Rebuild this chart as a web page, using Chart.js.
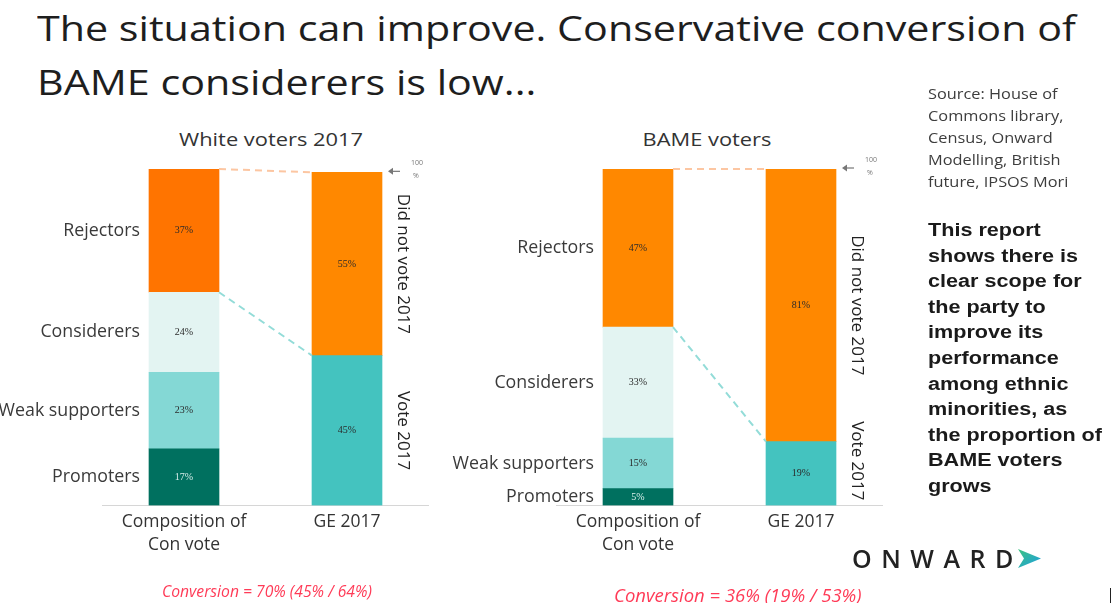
<!DOCTYPE html>
<html>
<head>
<meta charset="utf-8">
<title>BAME considerers</title>
<script src="https://cdn.jsdelivr.net/npm/chart.js@4.4.1/dist/chart.umd.min.js"></script>
<style>
  body { margin: 0; width: 1114px; height: 603px; position: relative; overflow: hidden; background: #fff; font-family: 'Open Sans', sans-serif; }
  canvas { position: absolute; left: 0; top: 0; }
  .abs { position: absolute; white-space: nowrap; }
  #title { left: 37px; top: 1px; font-size: 35px; line-height: 54px; color: #1e1e1e; transform: scaleX(1.178); transform-origin: left top; }
  .heading { font-size: 19px; color: #333; top: 126px; transform: translateX(-50%) scaleX(1.15); }
  #source { left: 928px; top: 82px; font-size: 15px; line-height: 22px; color: #3d3d3d; transform: scaleX(1.09); transform-origin: left top; }
  #note { left: 928px; top: 218px; font-family: 'Liberation Sans', Arial, sans-serif; font-weight: bold; font-size: 18px; line-height: 25.6px; color: #1a1a1a; transform: scaleX(1.2); transform-origin: left top; }
  .conv { font-style: italic; color: #ff3b57; }
  #logo { left: 852px; top: 541px; font-size: 25px; font-weight: 600; letter-spacing: 9.5px; color: #222; line-height: 34px; }
  #logo svg { position: absolute; left: 165px; top: 8px; }
</style>
</head>
<body>
<div id="title" class="abs">The situation can improve. Conservative conversion of<br>BAME considerers is low...</div>
<div class="abs heading" style="left:271px">White voters 2017</div>
<div class="abs heading" style="left:707px">BAME voters</div>
<canvas id="whiteChart" width="1114" height="603"></canvas>
<canvas id="bameChart" width="1114" height="603"></canvas>
<div id="source" class="abs">Source: House of<br>Commons library,<br>Census, Onward<br>Modelling, British<br>future, IPSOS Mori</div>
<div id="note" class="abs">This report<br>shows there is<br>clear scope for<br>the party to<br>improve its<br>performance<br>among ethnic<br>minorities, as<br>the proportion of<br>BAME voters<br>grows</div>
<div id="logo" class="abs">ONWARD<svg width="24" height="19" viewBox="0 0 24 19"><defs><linearGradient id="lg" x1="0" y1="0" x2="1" y2="1"><stop offset="0" stop-color="#3dc27f"/><stop offset="1" stop-color="#1d9fe3"/></linearGradient></defs><path d="M1 0 L24 9.5 L1 19 L7 9.5 Z" fill="url(#lg)"/></svg></div>
<div class="abs conv" style="left:162px;top:580px;font-size:15.7px">Conversion = 70% (45% / 64%)</div>
<div class="abs conv" style="left:614px;top:582px;font-size:18.5px">Conversion = 36% (19% / 53%)</div>
<div class="abs" style="left:1110px;top:588px;width:1px;height:15px;background:#222"></div>

<script>
// ---- data ----
const barLabels = [['Composition of', 'Con vote'], 'GE 2017'];
const segments = ['Promoters', 'Weak supporters', 'Considerers', 'Rejectors'];
const turnout = ['Vote 2017', 'Did not vote 2017'];

const whiteComposition = [17, 23, 24, 37];
const whiteTurnout = [45, 55];
const bameComposition = [5, 15, 33, 47];
const bameTurnout = [19, 81];

// ---- styles ----
const whiteSegColors = ['#00705f', '#84d8d5', '#e3f4f2', '#ff7400'];
const bameSegColors = ['#00705f', '#84d8d5', '#e3f4f2', '#ff8800'];
const turnoutColors = ['#44c3bf', '#ff8800'];
const segTextColors = ['#d7eeeb', '#2a2a2a', '#2a2a2a', '#2a2a2a'];

// Build stacked datasets: composition on the first bar, turnout on the second
function buildDatasets(comp, turn, segColors) {
    const sets = segments.map((name, i) => ({
        label: name,
        data: [comp[i], null],
        backgroundColor: segColors[i],
        textColor: segTextColors[i]
    }));
    turnout.forEach((name, i) => sets.push({
        label: name,
        data: [null, turn[i]],
        backgroundColor: turnoutColors[i],
        textColor: '#2a2a2a'
    }));
    return sets;
}

// Labels, connectors and the 100% marker
const annotate = {
    id: 'annotate',
    afterDatasetsDraw(chart) {
        const ctx = chart.ctx;
        const area = chart.chartArea;
        const yScale = chart.scales.y;
        const n = segments.length;
        const comp = [], turn = [];
        chart.data.datasets.forEach((ds, i) => {
            const meta = chart.getDatasetMeta(i);
            if (i < n) comp.push({ el: meta.data[0], ds, v: ds.data[0] });
            else turn.push({ el: meta.data[1], ds, v: ds.data[1] });
        });
        const b1 = comp[0].el, b2 = turn[0].el;
        const b1Left = b1.x - b1.width / 2, b1Right = b1.x + b1.width / 2;
        const b2Left = b2.x - b2.width / 2, b2Right = b2.x + b2.width / 2;

        ctx.save();
        // dashed connectors
        ctx.lineWidth = 2;
        ctx.setLineDash([7, 5]);
        ctx.strokeStyle = '#fcc6a2';
        ctx.beginPath();
        ctx.moveTo(b1Right, comp[n - 1].el.y);
        ctx.lineTo(b2Left, turn[turn.length - 1].el.y);
        ctx.stroke();
        ctx.strokeStyle = '#93dcd8';
        ctx.beginPath();
        ctx.moveTo(b1Right, comp[n - 2].el.y);
        ctx.lineTo(b2Left, turn[0].el.y);
        ctx.stroke();
        ctx.setLineDash([]);

        // values inside segments
        ctx.textAlign = 'center';
        ctx.textBaseline = 'middle';
        ctx.font = '10px "Liberation Serif"';
        comp.concat(turn).forEach(s => {
            ctx.fillStyle = s.ds.textColor;
            ctx.fillText(s.v + '%', s.el.x, (s.el.y + s.el.base) / 2);
        });

        // segment names on the left
        ctx.textAlign = 'right';
        ctx.font = '17.8px "Open Sans"';
        ctx.fillStyle = '#3a3a3a';
        comp.forEach(s => {
            ctx.fillText(s.ds.label, b1Left - 9, (s.el.y + s.el.base) / 2);
        });

        // rotated turnout names on the right
        ctx.font = '17px "Open Sans"';
        ctx.fillStyle = '#222';
        ctx.textAlign = 'center';
        turn.forEach(s => {
            const half = ctx.measureText(s.ds.label).width / 2;
            let cy = (s.el.y + s.el.base) / 2;
            cy = Math.min(cy, area.bottom - 5 - half);
            ctx.save();
            ctx.translate(b2Right + 21, cy);
            ctx.rotate(Math.PI / 2);
            ctx.fillText(s.ds.label, 0, 0);
            ctx.restore();
        });

        // 100% marker
        const yy = yScale.getPixelForValue(100) - 1;
        ctx.strokeStyle = '#777';
        ctx.fillStyle = '#777';
        ctx.lineWidth = 1.2;
        ctx.beginPath();
        ctx.moveTo(b2Right + 18, yy);
        ctx.lineTo(b2Right + 9, yy);
        ctx.stroke();
        ctx.beginPath();
        ctx.moveTo(b2Right + 6, yy);
        ctx.lineTo(b2Right + 11, yy - 3.5);
        ctx.lineTo(b2Right + 11, yy + 3.5);
        ctx.closePath();
        ctx.fill();
        ctx.font = '7px "Open Sans"';
        ctx.textAlign = 'left';
        ctx.fillText('100', b2Right + 29, yy - 8);
        ctx.fillText('%', b2Right + 31, yy + 5);
        ctx.restore();
    }
};

function makeChart(id, comp, turn, segColors, yMax, padLeft, padRight) {
    return new Chart(document.getElementById(id), {
        type: 'bar',
        data: { labels: barLabels, datasets: buildDatasets(comp, turn, segColors) },
        options: {
            responsive: false,
            animation: false,
            devicePixelRatio: 1,
            layout: { padding: { left: padLeft, right: padRight, top: 169, bottom: 37.5 } },
            barThickness: 70,
            plugins: { legend: { display: false }, tooltip: { enabled: false } },
            scales: {
                x: {
                    stacked: true,
                    grid: { display: false, drawTicks: false },
                    border: { display: true, color: '#d6d6d6', width: 1 },
                    ticks: {
                        padding: 5,
                        color: '#333',
                        font: { size: 17.5, family: "'Open Sans', sans-serif", lineHeight: 1.32 }
                    },
                    afterFit: s => { s.height = 60; }
                },
                y: { stacked: true, display: false, min: 0, max: yMax }
            }
        },
        plugins: [annotate]
    });
}

makeChart('whiteChart', whiteComposition, whiteTurnout, whiteSegColors, 101, 102.5, 1114 - 428.5);
makeChart('bameChart', bameComposition, bameTurnout, bameSegColors, 100, 556.5, 1114 - 882.5);
</script>
</body>
</html>
